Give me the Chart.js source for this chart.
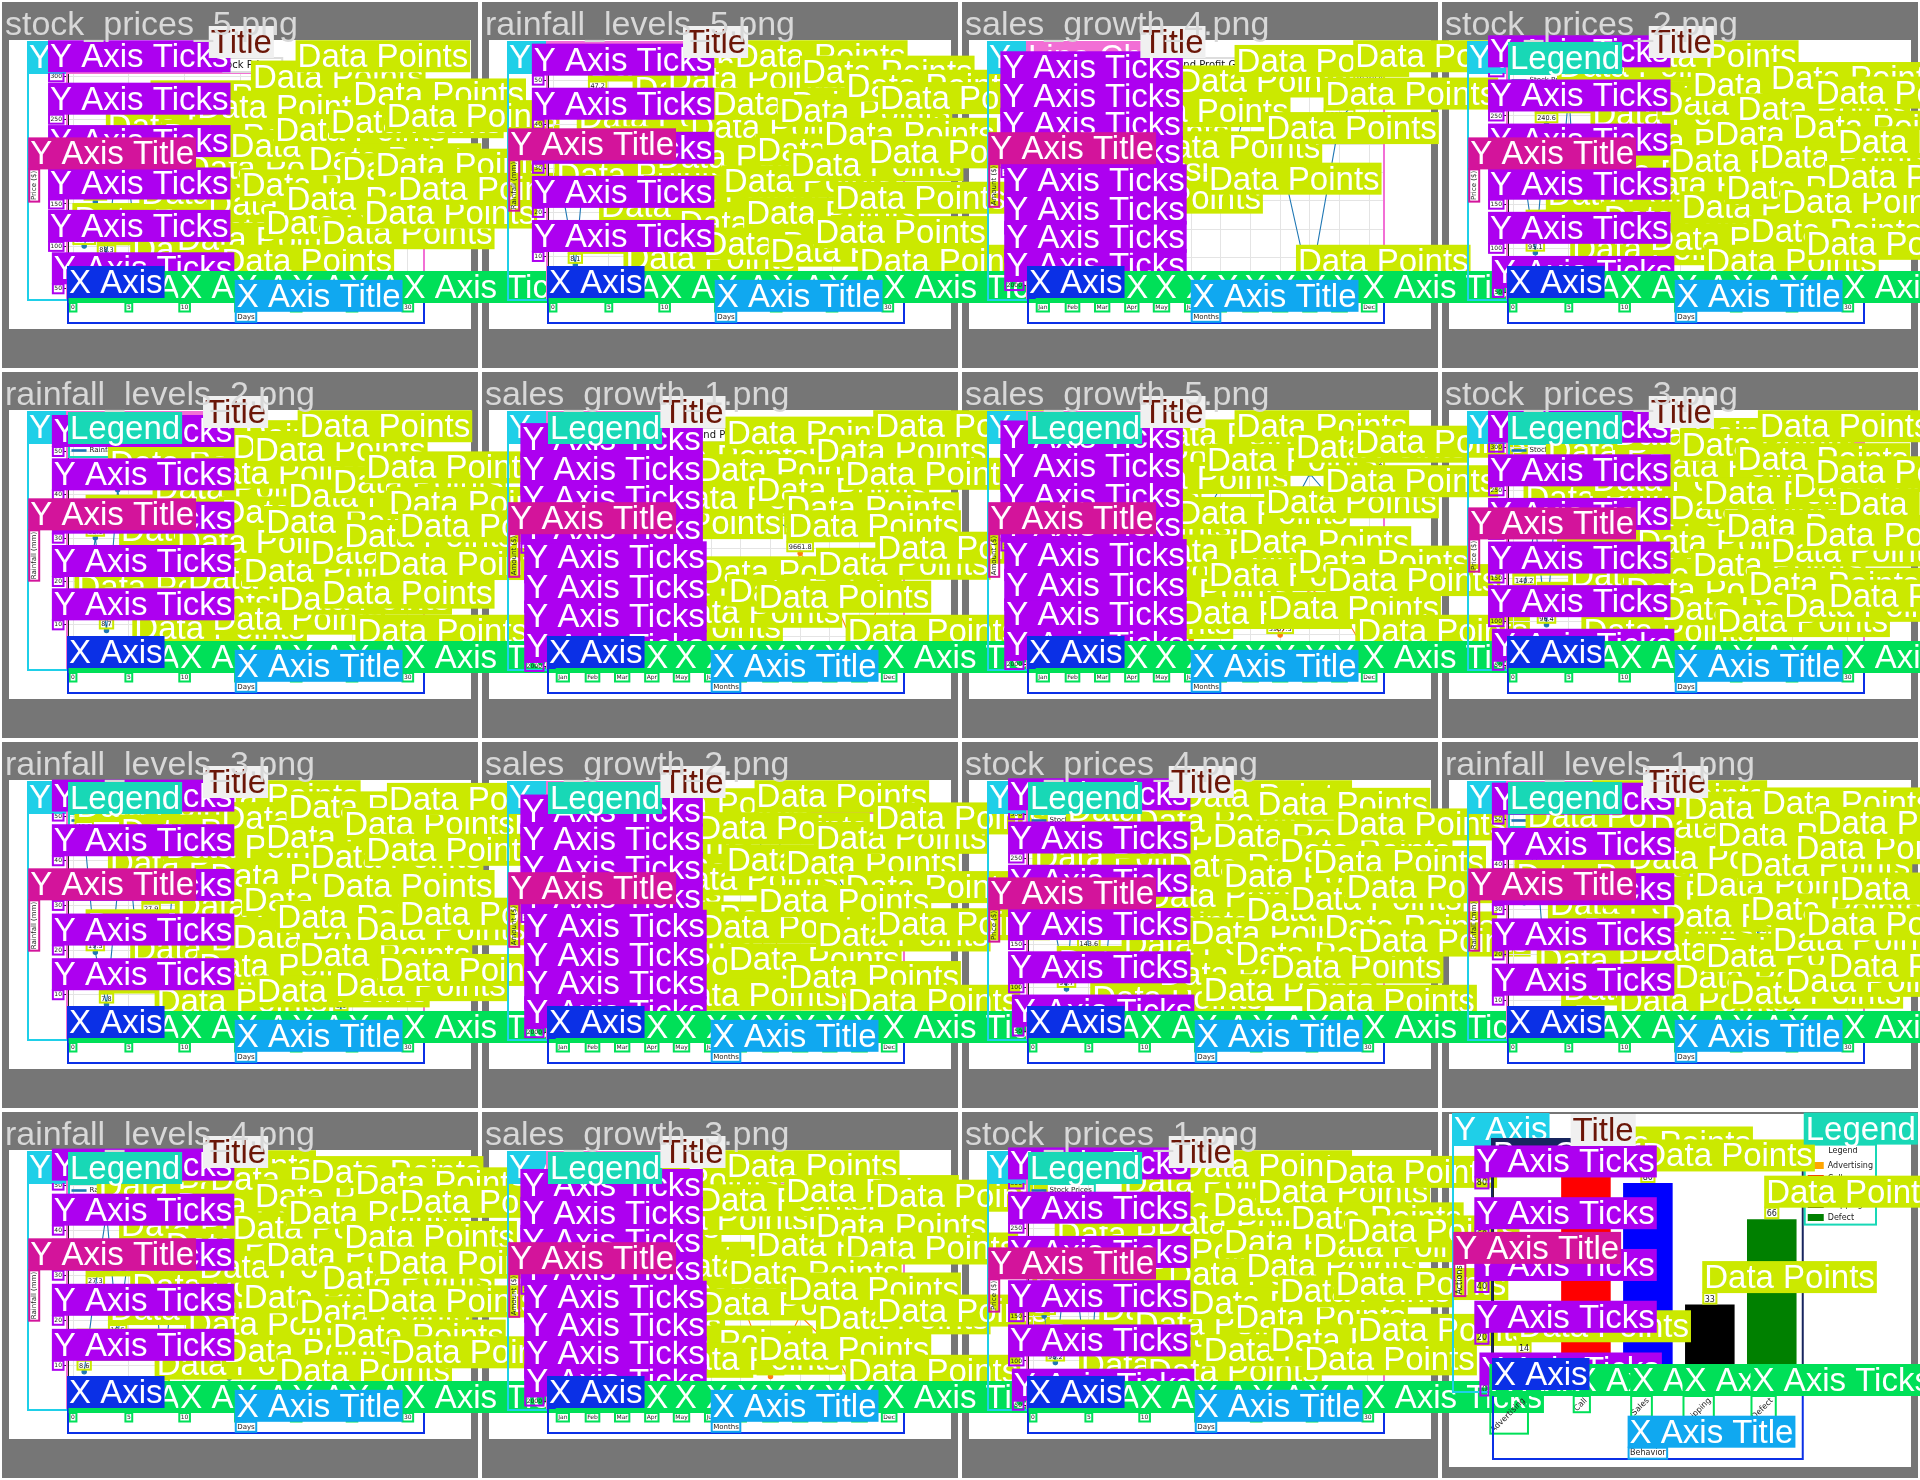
<!DOCTYPE html>
<html><head><meta charset="utf-8">
<script src="https://cdn.jsdelivr.net/npm/chart.js@4.4.1/dist/chart.umd.min.js"></script>
<style>
html,body{margin:0;padding:0;background:#fff;}
body{width:1920px;height:1480px;overflow:hidden;position:relative;}
.bg{position:absolute;background:#767676;z-index:0;}
.img{position:absolute;background:#fff;z-index:1;}
canvas{position:absolute;}
.name{position:absolute;color:#d8d8d8;font:34px/34px 'Liberation Sans',Arial,sans-serif;white-space:nowrap;z-index:100;}
</style></head><body>
<script>
// ---------- categories & ticks ----------
const days = [1,2,3,4,5,6,7,8,9,10,11,12,13,14,15,16,17,18,19,20,21,22,23,24,25,26,27,28,29,30];
const dayTicks = [0,5,10,15,20,25,30];
const months = ['Jan','Feb','Mar','Apr','May','Jun','Jul','Aug','Sep','Oct','Nov','Dec'];
const stockTicks = [50,100,150,200,250,300];
const rainTicks = [10,20,30,40,50];
const salesTicks = [2000,4000,6000,8000,10000,12000,14000,16000];
const behaviors = ['Advertising','Call','Sales','Shipping','Defect'];
const behaviorCounts = [14,85,80,33,66];
const behaviorColors = ['orange','red','blue','black','green'];
const countTicks = [0,20,40,60,80];

// ---------- series values ----------
const stockPrices5 = [100.4,152.7,88.3,210.5,175.2,64.9,130.6,245.1,198.8,77.4,160.3,232.9,118.5,51.2,186.7,140.1,268.4,95.6,205.3,123.8,292.4,170.9,83.7,214.6,159.2,247.3,108.1,164.5,221.8,136.0];
const stockPrices2 = [182.3,95.1,240.6,130.8,276.2,68.4,155.7,221.9,104.3,190.5,287.1,142.6,79.8,233.4,168.2,115.9,254.7,55.3,199.0,137.5,226.8,88.6,173.1,262.4,121.7,207.2,74.5,245.9,150.3,189.6];
const stockPrices3 = [140.2,210.7,96.4,265.1,178.3,122.9,58.6,231.4,189.7,284.2,105.8,160.1,247.5,83.3,199.6,271.8,134.0,216.2,69.7,178.9,255.3,112.4,293.1,150.6,87.2,224.5,168.8,240.3,98.9,203.7];
const stockPrices4 = [220.1,165.4,98.7,274.3,143.6,57.2,188.9,236.5,119.8,262.0,175.3,84.6,209.4,290.2,131.7,66.1,243.8,197.5,108.2,158.6,281.4,92.3,226.7,171.9,53.8,214.2,138.5,257.6,185.1,123.4];
const stockPrices1 = [150.7,98.2,212.4,176.1,64.5,239.8,128.3,193.6,271.2,110.9,58.4,225.7,167.3,289.5,134.8,81.6,246.2,203.9,119.4,177.0,260.3,92.7,148.1,230.6,71.3,199.2,283.1,156.4,215.8,104.6];
const rainfall5 = [22.4,8.1,35.6,47.2,15.3,29.8,3.6,41.9,18.7,26.4,44.1,11.5,33.2,6.8,38.5,20.9,49.3,13.7,28.1,5.2,36.9,24.6,45.8,9.4,31.7,17.2,42.6,2.9,27.5,39.8];
const rainfall2 = [12.4,30.1,8.7,41.2,25.6,3.1,18.9,35.4,47.3,22.8,14.6,38.9,5.2,29.7,44.8,16.3,44.0,27.5,9.8,33.6,49.6,20.4,11.2,36.7,24.3,2.4,40.1,17.8,31.9,26.5];
const rainfall3 = [46.2,19.5,7.8,33.4,40.7,14.2,27.9,2.6,37.1,23.8,48.4,10.3,30.6,43.5,16.9,25.2,4.7,39.3,21.4,45.9,12.8,34.7,28.3,6.1,42.2,18.6,36.4,9.5,47.8,22.1];
const rainfall1 = [31.5,44.7,12.9,25.3,6.4,38.2,19.6,49.1,27.8,3.9,35.5,15.2,42.3,22.7,9.1,46.6,29.4,13.8,40.5,5.7,33.9,24.1,47.5,17.4,8.3,37.6,20.8,43.2,11.6,28.7];
const rainfall4 = [8.6,27.3,43.9,16.5,35.1,21.7,48.2,4.4,30.8,39.6,13.1,25.9,45.3,7.2,34.4,19.1,41.7,28.6,2.8,37.9,15.8,46.9,23.3,10.6,32.5,44.4,18.2,26.8,6.9,40.3];
const sales4 = [8245.6,10989.3,6312.8,12441.3,9876.4,14532.1,7654.9,15987.2,11234.5,1843.2,13678.4,16320.8];
const sales1 = [10230.4,12876.1,9875.3,14321.7,11598.2,13456.9,15998.5,12089.6,10876.3,14765.2,13210.8,16432.1];
const profit1 = [3450.2,4120.6,2874.3,5697.5,3876.4,6543.2,5304.0,4890.3,9661.8,7123.4,2589.0,8210.6];
const sales5 = [11876.2,9543.8,14210.5,12765.3,15632.9,10398.4,13987.1,16254.6,11120.7,14876.3,12543.9,15210.2];
const profit5 = [4321.5,2987.6,6543.1,5120.8,7865.4,3654.2,6210.9,8432.7,3987.3,7120.5,5876.1,2456.8];
const sales2 = [9876.5,13254.7,11432.9,15987.4,10765.2,14321.8,12098.6,16543.2,11876.9,13654.1,10234.7,15002.3];
const profit2 = [3210.4,6543.7,4876.2,8123.5,2765.9,7432.1,5210.6,9264.6,3987.4,6876.3,2341.8,7654.9];
const sales3 = [12543.6,10321.8,15876.2,13098.4,9765.3,14432.7,16876.5,11234.9,15098.1,12621.6,10987.2,14765.8];
const profit3 = [5432.1,2876.4,7654.3,4321.9,3098.7,6987.2,9264.6,3765.1,8123.4,5987.6,2234.5,6543.2];

const BLUE = '#1f77b4', ORANGE = '#ff7f0e';
const KIND = {
  stock: {title:'Stock Prices', xTitle:'Days', yTitle:'Price ($)', yTicks:stockTicks},
  rain: {title:'Rainfall Levels', xTitle:'Days', yTitle:'Rainfall (mm)', yTicks:rainTicks},
  sales: {title:'Sales and Profit Growth', xTitle:'Months', yTitle:'Amount ($)', yTicks:salesTicks}
};
const S = (label, data, color) => ({label, data, color});
const panels = [
  {name:'stock_prices_5.png', kind:'stock', legend:false, series:[S('Stock Prices', stockPrices5, BLUE)]},
  {name:'rainfall_levels_5.png', kind:'rain', legend:false, series:[S('Rainfall Levels', rainfall5, BLUE)]},
  {name:'sales_growth_4.png', kind:'sales', legend:false, series:[S('Sales', sales4, BLUE)]},
  {name:'stock_prices_2.png', kind:'stock', legend:true, series:[S('Stock Prices', stockPrices2, BLUE)]},
  {name:'rainfall_levels_2.png', kind:'rain', legend:true, series:[S('Rainfall Levels', rainfall2, BLUE)]},
  {name:'sales_growth_1.png', kind:'sales', legend:true, series:[S('Sales', sales1, BLUE), S('Profit', profit1, ORANGE)]},
  {name:'sales_growth_5.png', kind:'sales', legend:true, series:[S('Sales', sales5, BLUE), S('Profit', profit5, ORANGE)]},
  {name:'stock_prices_3.png', kind:'stock', legend:true, series:[S('Stock Prices', stockPrices3, BLUE)]},
  {name:'rainfall_levels_3.png', kind:'rain', legend:true, series:[S('Rainfall Levels', rainfall3, BLUE)]},
  {name:'sales_growth_2.png', kind:'sales', legend:true, series:[S('Sales', sales2, BLUE), S('Profit', profit2, ORANGE)]},
  {name:'stock_prices_4.png', kind:'stock', legend:true, series:[S('Stock Prices', stockPrices4, BLUE)]},
  {name:'rainfall_levels_1.png', kind:'rain', legend:true, series:[S('Rainfall Levels', rainfall1, BLUE)]},
  {name:'rainfall_levels_4.png', kind:'rain', legend:true, series:[S('Rainfall Levels', rainfall4, BLUE)]},
  {name:'sales_growth_3.png', kind:'sales', legend:true, series:[S('Sales', sales3, BLUE), S('Profit', profit3, ORANGE)]},
  {name:'stock_prices_1.png', kind:'stock', legend:true, series:[S('Stock Prices', stockPrices1, BLUE)]},
  {name:'', kind:'bar', legend:true, series:[]}
];

// ---------- annotation styles ----------
const LABEL_FONT = "33px 'Liberation Sans', Arial, sans-serif";
const CLS = {
  'Y Axis':{c:'#1fcfe8'}, 'X Axis':{c:'#0b30e6'}, 'Line Chart':{c:'#f26fd5'}, 'Bar Chart':{c:'#17255e'},
  'Legend':{c:'#18d8b6'}, 'Title':{c:'#f0f0f0', t:'#6b1608', o:'#dddddd'}, 'Data Points':{c:'#cbe900'},
  'Y Axis Ticks':{c:'#ad00f0'}, 'Y Axis Title':{c:'#d3149b'}, 'X Axis Title':{c:'#10a8f0'}, 'X Axis Ticks':{c:'#00e058'}
};
const ORDER = ['Y Axis','Line Chart','Bar Chart','Data Points','Y Axis Ticks','Legend','Title','Y Axis Title','X Axis Ticks','X Axis','X Axis Title'];
const FAM = "'DejaVu Sans', sans-serif";

const annotPlugin = {
  id:'annot',
  afterLayout(chart){
    const lg = chart.legend;
    if (lg && lg.options.position === 'chartArea') {
      const a = chart.chartArea;
      lg.top = a.top; lg.bottom = a.bottom; lg.left = a.left; lg.right = a.right;
    }
  },
  beforeDatasetsDraw(chart){
    if (chart.config.type === 'bar') return;
    const a = chart.chartArea, ctx = chart.ctx;
    ctx.save(); ctx.strokeStyle = '#222'; ctx.lineWidth = 0.8;
    ctx.strokeRect(a.left, a.top, a.right - a.left, a.bottom - a.top); ctx.restore();
  },
  afterDraw(chart){
    const ctx = chart.ctx, a = chart.chartArea, xs = chart.scales.x, ys = chart.scales.y;
    const isBar = chart.config.type === 'bar';
    const items = {};
    const add = (cls, x1, y1, x2, y2) => (items[cls] = items[cls] || []).push([x1, y1, x2, y2]);
    ctx.save();
    // value labels on the data points
    const vfs = isBar ? 8 : 6.5;
    ctx.font = vfs + 'px ' + FAM; ctx.fillStyle = '#222'; ctx.textAlign = 'center'; ctx.textBaseline = 'alphabetic';
    chart.data.datasets.forEach((ds, di) => {
      const meta = chart.getDatasetMeta(di);
      meta.data.forEach((el, j) => {
        const raw = ds.data[j]; if (raw == null) return;
        const v = typeof raw === 'object' ? raw.y : raw;
        const txt = isBar ? String(v) : v.toFixed(1);
        const w = ctx.measureText(txt).width;
        const ty = el.y - (isBar ? 3 : 4);
        ctx.fillText(txt, el.x, ty);
        add('Data Points', el.x - w/2 - 1.5, ty - vfs - 0.5, el.x + w/2 + 1.5, ty + 2);
      });
    });
    const tfs = isBar ? 8 : 6;
    ctx.font = tfs + 'px ' + FAM;
    // y ticks
    ys.ticks.forEach(t => {
      const y = ys.getPixelForValue(t.value), w = ctx.measureText(t.label).width, xr = ys.right - 6;
      add('Y Axis Ticks', xr - w - 1.5, y - tfs/2 - 1.5, xr + 1.5, y + tfs/2 + 1.5);
    });
    // x ticks
    xs.ticks.forEach((t, i) => {
      const x = xs.getPixelForTick(i), lab = String(t.label), w = ctx.measureText(lab).width, yt = xs.top + 6;
      if (isBar) {
        const d = (w + tfs) * 0.707;
        add('X Axis Ticks', x + tfs*0.5 - d, yt, x + tfs*0.5, yt + d);
      } else add('X Axis Ticks', x - w/2 - 1.5, yt - 1, x + w/2 + 1.5, yt + tfs + 1.5);
    });
    // axis titles
    const afs = isBar ? 8 : 7;
    ctx.font = afs + 'px ' + FAM;
    const yt = ys.options.title.text, ywid = ctx.measureText(yt).width;
    const ytx = ys.left + afs*0.6 + 2, yty = (ys.top + ys.bottom)/2;
    add('Y Axis Title', ytx - afs/2 - 1.5, yty - ywid/2 - 1.5, ytx + afs/2 + 1.5, yty + ywid/2 + 1.5);
    const xt = xs.options.title.text, xwid = ctx.measureText(xt).width;
    const xtx = (xs.left + xs.right)/2, xty = xs.bottom - afs*0.6 - (isBar ? 2 : 3);
    add('X Axis Title', xtx - xwid/2 - 1.5, xty - afs/2 - 1.5, xtx + xwid/2 + 1.5, xty + afs/2 + 1.5);
    // title
    const tb = chart.titleBlock;
    ctx.font = '10px ' + FAM;
    const tt = chart.options.plugins.title.text, tw = ctx.measureText(tt).width, tcx = (tb.left + tb.right)/2;
    add('Title', tcx - tw/2 - 6, tb.top - 1, tcx + tw/2 + 6, tb.top + 13);
    // legend
    const lg = chart.legend;
    if (lg && lg.options.display && lg.legendHitBoxes && lg.legendHitBoxes.length) {
      let x1 = 1e9, y1 = 1e9, x2 = -1e9, y2 = -1e9;
      lg.legendHitBoxes.forEach(h => { x1 = Math.min(x1, h.left); y1 = Math.min(y1, h.top); x2 = Math.max(x2, h.left + h.width); y2 = Math.max(y2, h.top + h.height); });
      if (isBar) y1 -= 14;
      add('Legend', x1 - 3, y1 - 3, x2 + 3, y2 + 3);
    }
    // axes and plot area
    add('Y Axis', ys.left, isBar ? a.top - 25 : a.top, ys.right - 1, a.bottom + 2);
    add('X Axis', a.left, xs.top, a.right, xs.bottom - 1);
    add(isBar ? 'Bar Chart' : 'Line Chart', a.left - 1, a.top, a.right, a.bottom);
    // outlines
    ctx.lineWidth = 2;
    ORDER.forEach(cls => (items[cls] || []).forEach(b => {
      ctx.strokeStyle = CLS[cls].o || CLS[cls].c;
      ctx.strokeRect(b[0], b[1], b[2] - b[0], b[3] - b[1]);
    }));
    // labels
    ctx.font = LABEL_FONT; ctx.textAlign = 'left'; ctx.textBaseline = 'alphabetic';
    ORDER.forEach(cls => (items[cls] || []).forEach(b => {
      const w = ctx.measureText(cls).width + 4, h = 32, lx = b[0] - 1, ly = b[1] - h;
      ctx.fillStyle = CLS[cls].c; ctx.fillRect(lx, ly, w, h);
      ctx.fillStyle = CLS[cls].t || '#ffffff'; ctx.fillText(cls, lx + 2, ly + 27);
    }));
    ctx.restore();
  }
};

Chart.defaults.font.family = FAM;
Chart.defaults.color = '#222';

function lineConfig(p){
  const k = KIND[p.kind], cat = p.kind === 'sales';
  const all = p.series.flatMap(s => s.data);
  const lo = Math.min(...all), hi = Math.max(...all), mg = (hi - lo) * 0.05;
  const dmg = (days[days.length - 1] - days[0]) * 0.05;
  const xCommon = {
    grid:{color:'#e4e4e4', tickLength:4, tickColor:'#222'}, border:{color:'#222'},
    title:{display:true, text:k.xTitle, font:{size:7}, padding:{top:1, bottom:3}},
    afterFit: s => { s.height = 26; }
  };
  const x = cat
    ? Object.assign({type:'category', offset:true, ticks:{font:{size:6}, padding:2, maxRotation:0, autoSkip:false}}, xCommon)
    : Object.assign({type:'linear', bounds:'data', min:days[0] - dmg, max:days[days.length - 1] + dmg,
        afterBuildTicks: s => { s.ticks = dayTicks.map(v => ({value:v})); },
        ticks:{font:{size:6}, padding:2, maxRotation:0, autoSkip:false, callback: v => String(v)}}, xCommon);
  return {
    type:'line',
    data:{
      labels: cat ? months : days,
      datasets: p.series.map(s => ({
        label:s.label,
        data: cat ? s.data : s.data.map((v, i) => ({x:days[i], y:v})),
        borderColor:s.color, backgroundColor:s.color, pointBackgroundColor:s.color, pointBorderColor:s.color,
        pointRadius:2.2, borderWidth:1.1, tension:0, fill:false
      }))
    },
    options:{
      responsive:false, animation:false, devicePixelRatio:1,
      layout:{padding:{left:28, right:316, top:99, bottom:46}},
      plugins:{
        legend:{display:p.legend, position:'chartArea', align:'start',
          labels:{font:{size:7}, boxWidth:14, boxHeight:1.5, padding:4, color:'#222'}},
        title:{display:true, text:k.title, fullSize:false, font:{size:10, weight:'normal'}, color:'#111', padding:{top:0, bottom:2}},
        tooltip:{enabled:false}
      },
      scales:{
        x: x,
        y:{type:'linear', bounds:'data', min:lo - mg, max:hi + mg,
          afterBuildTicks: s => { s.ticks = k.yTicks.map(v => ({value:v})); },
          grid:{color:'#e4e4e4', tickLength:4, tickColor:'#222'}, border:{color:'#222'},
          ticks:{font:{size:6}, padding:2, callback: v => String(v)},
          title:{display:true, text:k.yTitle, font:{size:7}, padding:{top:2, bottom:1}},
          afterFit: s => { s.width = 40; }}
      }
    },
    plugins:[annotPlugin]
  };
}

function barConfig(){
  return {
    type:'bar',
    data:{
      labels:behaviors,
      datasets: behaviors.map((b, i) => ({
        label:b, data: behaviors.map((_, j) => j === i ? behaviorCounts[i] : null),
        backgroundColor:behaviorColors[i], borderWidth:0, skipNull:true, barPercentage:0.8, categoryPercentage:1
      }))
    },
    options:{
      responsive:false, animation:false, devicePixelRatio:1,
      layout:{padding:{left:13, right:297, top:77, bottom:20}},
      plugins:{
        legend:{position:'right', align:'start', title:{display:true, text:'Legend', font:{size:8}},
          labels:{font:{size:8}, boxWidth:16, boxHeight:7, padding:5, color:'#222'}},
        title:{display:true, text:'Customer Behavior Analysis', fullSize:false, font:{size:10, weight:'normal'}, color:'#111', padding:{top:0, bottom:11}},
        tooltip:{enabled:false}
      },
      scales:{
        x:{grid:{display:false, tickLength:4}, border:{color:'#222'},
          ticks:{font:{size:8}, minRotation:45, maxRotation:45, padding:2, autoSkip:false},
          title:{display:true, text:'Behavior', font:{size:8}, padding:{top:1, bottom:2}},
          afterFit: s => { s.height = 70; }},
        y:{min:0, max:Math.max(...behaviorCounts), bounds:'data',
          afterBuildTicks: s => { s.ticks = countTicks.map(v => ({value:v})); },
          grid:{display:false, tickLength:4}, border:{color:'#222'},
          ticks:{font:{size:8}, padding:2, callback: v => String(v)},
          title:{display:true, text:'Actions', font:{size:8}, padding:{top:2, bottom:1}},
          afterFit: s => { s.width = 40; }}
      }
    },
    plugins:[annotPlugin]
  };
}

function addDiv(cls, x, y, w, h){
  const d = document.createElement('div'); d.className = cls;
  Object.assign(d.style, {left:x + 'px', top:y + 'px', width:w + 'px', height:h + 'px'});
  document.body.appendChild(d); return d;
}

panels.forEach((p, i) => {
  const r = Math.floor(i / 4), c = i % 4, px = c * 480, py = r * 370;
  addDiv('bg', px + 2, py + 2, 476, 366);
  if (p.kind === 'bar') addDiv('img', px + 9, py + 4, 462, 353);
  else addDiv('img', px + 9, py + 40, 462, 289);
  const cv = document.createElement('canvas');
  cv.width = 740; cv.height = 410;
  Object.assign(cv.style, {left:px + 'px', top:(py - 40) + 'px', width:'740px', height:'410px', zIndex:String(10 + i)});
  document.body.appendChild(cv);
  new Chart(cv, p.kind === 'bar' ? barConfig() : lineConfig(p));
  if (p.name) {
    const n = document.createElement('div'); n.className = 'name'; n.textContent = p.name;
    Object.assign(n.style, {left:(px + 5) + 'px', top:(py + 6) + 'px'});
    document.body.appendChild(n);
  }
});
</script>
</body></html>
